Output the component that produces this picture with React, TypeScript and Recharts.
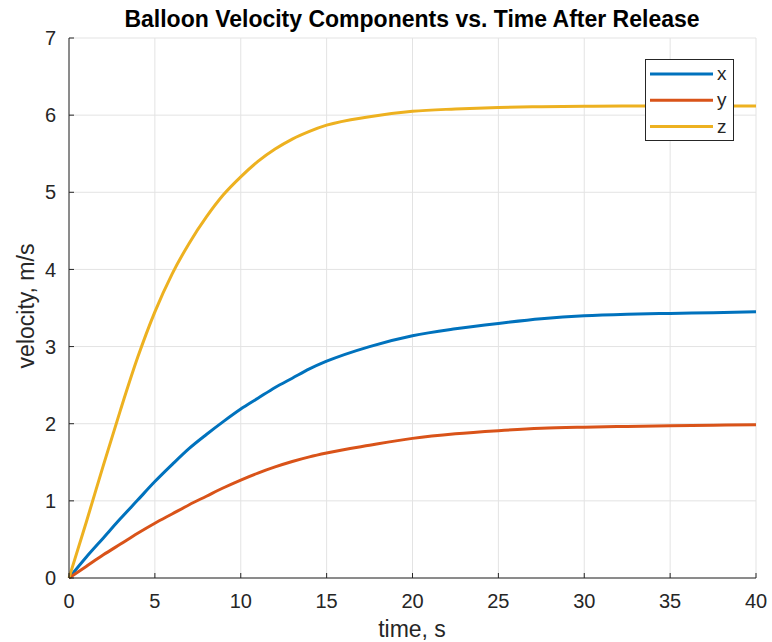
import { LineChart, Line, XAxis, YAxis, CartesianGrid, Legend, Label } from 'recharts';

// time, s
const time = [0, 1, 2, 3, 4, 5, 6, 7, 8, 9, 10, 11, 12, 13, 14, 15, 17.5, 20, 22.5, 25, 27.5, 30, 32.5, 35, 37.5, 40];
// velocity components, m/s
const vx = [0, 0.27, 0.52, 0.77, 1.01, 1.25, 1.47, 1.68, 1.86, 2.03, 2.19, 2.33, 2.47, 2.59, 2.71, 2.81, 3.0, 3.14, 3.23, 3.3, 3.36, 3.4, 3.42, 3.43, 3.44, 3.45];
const vy = [0, 0.15, 0.3, 0.44, 0.58, 0.71, 0.83, 0.95, 1.06, 1.17, 1.27, 1.36, 1.44, 1.51, 1.57, 1.62, 1.72, 1.81, 1.87, 1.91, 1.94, 1.955, 1.965, 1.972, 1.98, 1.985];
const vz = [0, 0.72, 1.46, 2.18, 2.86, 3.45, 3.94, 4.34, 4.68, 4.97, 5.2, 5.4, 5.56, 5.69, 5.79, 5.87, 5.98, 6.05, 6.08, 6.1, 6.11, 6.115, 6.12, 6.12, 6.12, 6.12];

const xTicks = [0, 5, 10, 15, 20, 25, 30, 35, 40];
const yTicks = [0, 1, 2, 3, 4, 5, 6, 7];

const series = [
    { key: 'x', color: '#0072BD' },
    { key: 'y', color: '#D95319' },
    { key: 'z', color: '#EDB120' },
];

const data = time.map((t, i) => ({ t, x: vx[i], y: vy[i], z: vz[i] }));

const FONT = 'Arial, "Liberation Sans", Helvetica, sans-serif';
const INK = '#262626';

const renderLegend = () => (
    <svg width={89} height={82} style={{ display: 'block' }}>
        <rect x={0.5} y={0.5} width={88} height={81} fill="#fff" stroke={INK} strokeWidth={1} />
        {series.map((s, i) => (
            <g key={s.key}>
                <line x1={5} x2={68} y1={15 + i * 26.3} y2={15 + i * 26.3} stroke={s.color} strokeWidth={3} />
                <text x={72} y={21 + i * 26.3} fontSize={19} fontFamily={FONT} fill={INK}>{s.key}</text>
            </g>
        ))}
    </svg>
);

export default function App() {
    return (
        <div style={{ position: 'absolute', left: 0, top: 0, background: '#fff' }}>
            <LineChart width={772} height={642} data={data} margin={{ top: 38, right: 16, bottom: 0, left: 0 }}>
                <CartesianGrid stroke="#e3e3e3" strokeWidth={1} />
                <XAxis
                    dataKey="t"
                    type="number"
                    domain={[0, 40]}
                    ticks={xTicks}
                    height={64}
                    stroke={INK}
                    tickSize={-5}
                    tickMargin={21}
                    tick={{ fill: INK, fontSize: 20, fontFamily: FONT }}
                >
                    <Label content={() => (
                        <text x={412} y={637} textAnchor="middle" fontSize={23} fontFamily={FONT} fill={INK}>time, s</text>
                    )} />
                </XAxis>
                <YAxis
                    type="number"
                    domain={[0, 7]}
                    ticks={yTicks}
                    width={69}
                    stroke={INK}
                    tickSize={-5}
                    tickMargin={18}
                    tick={{ fill: INK, fontSize: 20, fontFamily: FONT }}
                >
                    <Label content={() => (
                        <text x={34} y={306} transform="rotate(-90 34 306)" textAnchor="middle" fontSize={23} fontFamily={FONT} fill={INK}>velocity, m/s</text>
                    )} />
                    <Label content={() => (
                        <text x={412} y={27} textAnchor="middle" fontSize={23} fontWeight="bold" fontFamily={FONT} fill="#000">Balloon Velocity Components vs. Time After Release</text>
                    )} />
                </YAxis>
                <Legend
                    layout="vertical"
                    align="center"
                    verticalAlign="middle"
                    content={renderLegend}
                    wrapperStyle={{ left: 645, top: 59, width: 89, height: 82 }}
                />
                {series.map(s => (
                    <Line
                        key={s.key}
                        type="monotone"
                        dataKey={s.key}
                        stroke={s.color}
                        strokeWidth={3}
                        dot={false}
                        isAnimationActive={false}
                    />
                ))}
            </LineChart>
        </div>
    );
}
